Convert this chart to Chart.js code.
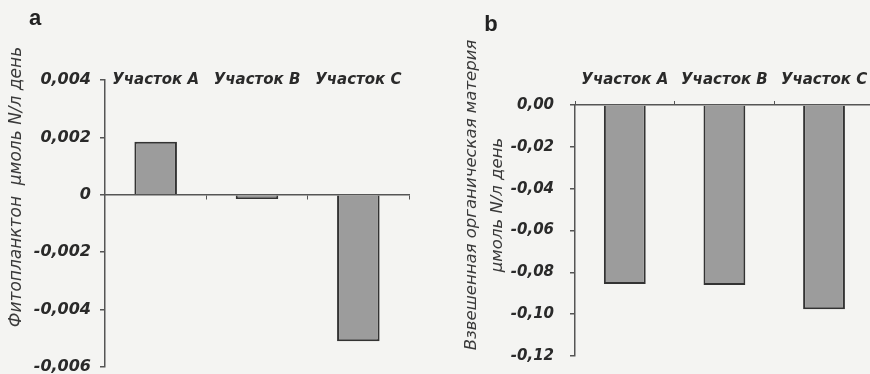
<!DOCTYPE html>
<html lang="ru">
<head>
<meta charset="UTF-8">
<title>Фитопланктон и взвешенная органическая материя</title>
<style>
  html, body { margin: 0; padding: 0; background: #f4f4f2; overflow: hidden; }
  .panel { position: absolute; top: 0; height: 374px; }
  #panelA { left: 0; width: 435px; }
  #panelB { left: 435px; width: 445px; }
</style>
<script src="https://cdn.jsdelivr.net/npm/chart.js"></script>
</head>
<body>
<div class="panel" id="panelA"><canvas id="chartA"></canvas></div>
<div class="panel" id="panelB"><canvas id="chartB"></canvas></div>
<script>
// data
const sites = ['Участок A', 'Участок B', 'Участок C'];
const phytoValues = [0.00185, -0.00015, -0.0051];      // panel a
const pomValues = [-0.0856, -0.0861, -0.0976];         // panel b
const phytoRange = [-0.006, 0.004, 0.002];             // min, max, step
const pomRange = [-0.12, 0, 0.02];

const barFill = '#9c9c9c';
const barEdge = '#333';
const axisColor = '#555';
const tickFont = { family: 'DejaVu Sans', size: 16, weight: 'bold', style: 'italic' };
const catFont = { family: 'DejaVu Sans', size: 15, weight: 'bold', style: 'italic' };

function fmt(v, digits, zeroText) {
  if (Math.abs(v) < 1e-9) return zeroText;
  return v.toFixed(digits).replace('.', ',');
}

// let the end tick labels hang over the plot edges like in the original
function fitY(width) {
  return s => {
    s.width = width;
    s.paddingTop = 0;
    s.paddingBottom = 0;
  };
}

// draws panel letters and rotated axis titles
const sideText = {
  id: 'sideText',
  afterDraw(chart, args, opts) {
    const ctx = chart.ctx;
    (opts.items || []).forEach(it => {
      ctx.save();
      ctx.fillStyle = it.color || '#333';
      ctx.font = it.font;
      ctx.textAlign = 'center';
      ctx.textBaseline = 'middle';
      ctx.translate(it.x, it.y);
      ctx.rotate(it.angle || 0);
      ctx.fillText(it.text, 0, 0);
      ctx.restore();
    });
  }
};

Chart.defaults.animation = false;
Chart.defaults.color = '#2a2a2a';

const chartA = new Chart(document.getElementById('chartA'), {
  type: 'bar',
  data: {
    labels: sites,
    datasets: [{
      data: phytoValues,
      backgroundColor: barFill,
      borderColor: barEdge,
      borderWidth: 2,
      categoryPercentage: 1,
      barPercentage: 0.42
    }]
  },
  options: {
    responsive: true,
    maintainAspectRatio: false,
    layout: { padding: { left: 0, top: 80, right: 26, bottom: 7 } },
    plugins: {
      legend: { display: false },
      tooltip: { enabled: false },
      sideText: {
        items: [
          { text: 'a', x: 35, y: 19, font: 'bold 22px "Liberation Sans"', color: '#222' },
          { text: 'Фитопланктон  µмоль N/л день', x: 17, y: 187, angle: -Math.PI / 2,
            font: 'italic 17px "DejaVu Sans"', color: '#3a3a3a' }
        ]
      }
    },
    scales: {
      y: {
        min: phytoRange[0],
        max: phytoRange[1],
        ticks: {
          stepSize: phytoRange[2],
          font: tickFont,
          padding: 9,
          callback: v => fmt(v, 3, '0')
        },
        grid: { drawOnChartArea: false, tickLength: 5, color: axisColor, lineWidth: 1.5 },
        border: { color: axisColor, width: 1.5 },
        afterFit: fitY(105)
      },
      x: {
        position: { y: 0 },
        ticks: { display: false },
        grid: { offset: true, drawOnChartArea: false, tickLength: 4, color: axisColor },
        border: { color: axisColor, width: 1.5 },
        afterFit: s => { s.height = 0; }
      },
      x2: {
        type: 'category',
        labels: sites,
        position: { y: phytoRange[1] },
        grid: { display: false },
        border: { display: false },
        ticks: { font: catFont, padding: -17, maxRotation: 0, autoSkip: false },
        afterFit: s => { s.height = 0; }
      }
    }
  },
  plugins: [sideText]
});

const chartB = new Chart(document.getElementById('chartB'), {
  type: 'bar',
  data: {
    labels: sites,
    datasets: [{
      data: pomValues,
      backgroundColor: barFill,
      borderColor: barEdge,
      borderWidth: 2,
      categoryPercentage: 1,
      barPercentage: 0.42
    }]
  },
  options: {
    responsive: true,
    maintainAspectRatio: false,
    layout: { padding: { left: 0, top: 0, right: 5, bottom: 18 } },
    plugins: {
      legend: { display: false },
      tooltip: { enabled: false },
      sideText: {
        items: [
          { text: 'b', x: 56, y: 25, font: 'bold 22px "Liberation Sans"', color: '#222' },
          { text: 'Взвешенная органическая материя', x: 37, y: 195, angle: -Math.PI / 2,
            font: 'italic 16.5px "DejaVu Sans"', color: '#3a3a3a' },
          { text: 'µмоль N/л день', x: 63, y: 205, angle: -Math.PI / 2,
            font: 'italic 16.5px "DejaVu Sans"', color: '#3a3a3a' }
        ]
      }
    },
    scales: {
      y: {
        min: pomRange[0],
        max: pomRange[1],
        ticks: {
          stepSize: pomRange[2],
          font: { family: 'DejaVu Sans', size: 15, weight: 'bold', style: 'italic' },
          padding: 16,
          callback: v => fmt(v, 2, '0,00')
        },
        grid: { drawOnChartArea: false, tickLength: 5, color: axisColor, lineWidth: 1.5 },
        border: { color: axisColor, width: 1.5 },
        afterFit: fitY(140)
      },
      x: {
        position: 'top',
        grid: { offset: true, drawOnChartArea: false, tickLength: 4, color: axisColor },
        border: { color: axisColor, width: 1.5 },
        ticks: { font: catFont, padding: 12, maxRotation: 0, autoSkip: false },
        afterFit: s => { s.height = 105; }
      }
    }
  },
  plugins: [sideText]
});
</script>
</body>
</html>
